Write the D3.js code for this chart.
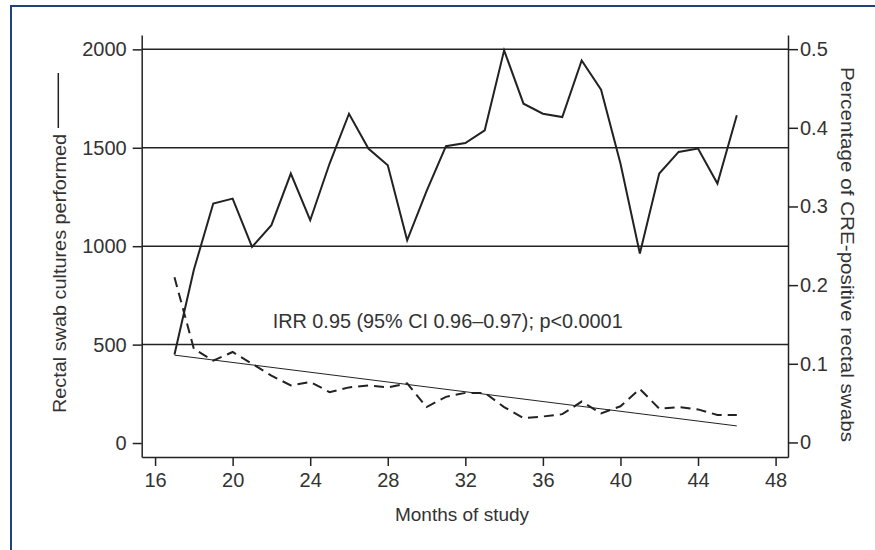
<!DOCTYPE html>
<html>
<head>
<meta charset="utf-8">
<script src="https://cdn.jsdelivr.net/npm/d3@7"></script>
<style>
  body { margin: 0; background: #fff; }
  svg { display: block; font-family: "Liberation Sans", Arial, sans-serif; }
</style>
</head>
<body>
<svg id="chart" width="875" height="550"></svg>
<script>
// months of study
var months = [17, 18, 19, 20, 21, 22, 23, 24, 25, 26, 27, 28, 29, 30, 31,
              32, 33, 34, 35, 36, 37, 38, 39, 40, 41, 42, 43, 44, 45, 46];
// rectal swab cultures performed (left axis)
var cultures = [450, 880, 1217, 1242, 996, 1107, 1369, 1132, 1420, 1673,
                1496, 1411, 1030, 1280, 1508, 1524, 1589, 1995, 1724, 1673,
                1656, 1944, 1795, 1420, 963, 1369, 1479, 1496, 1318, 1665];
// percentage of CRE-positive rectal swabs (right axis)
var crePct = [0.210, 0.119, 0.104, 0.115, 0.100, 0.085, 0.0725, 0.077, 0.064, 0.070,
              0.0725, 0.070, 0.075, 0.045, 0.058, 0.063, 0.063, 0.045, 0.031, 0.033,
              0.036, 0.052, 0.037, 0.046, 0.068, 0.043, 0.045, 0.042, 0.035, 0.035];
// fitted trend (right axis), end points
var trendMonths = [17, 46];
var trendPct = [0.111, 0.021];

var xTicks = [16, 20, 24, 28, 32, 36, 40, 44, 48];
var leftTicks = [0, 500, 1000, 1500, 2000];
var gridTicks = [500, 1000, 1500, 2000];
var rightTicks = [0, 0.1, 0.2, 0.3, 0.4, 0.5];
var annotation = "IRR 0.95 (95% CI 0.96\u20130.97); p<0.0001";

var ink = "#222", textCol = "#333";
var plotLeft = 141.7, plotRight = 788, plotTop = 35, plotBottom = 457;

var svg = d3.select("#chart");

// frame (only top/left edges fall inside the picture)
svg.append("line").attr("x1", 10).attr("x2", 875).attr("y1", 6).attr("y2", 6)
  .attr("stroke", "#22407c").attr("stroke-width", 2);
svg.append("line").attr("x1", 11).attr("x2", 11).attr("y1", 5).attr("y2", 550)
  .attr("stroke", "#22407c").attr("stroke-width", 2);

var x = d3.scaleLinear().domain([15.31, 48.64]).range([plotLeft, plotRight]);
var yL = d3.scaleLinear().domain([-71, 2073]).range([plotBottom, plotTop]);
var yR = d3.scaleLinear().domain([-0.0185, 0.518]).range([plotBottom, plotTop]);

// grid lines
svg.append("g").selectAll("line").data(gridTicks).enter().append("line")
  .attr("x1", plotLeft).attr("x2", plotRight)
  .attr("y1", function (d) { return yL(d); })
  .attr("y2", function (d) { return yL(d); })
  .attr("stroke", ink).attr("stroke-width", 1.5);

function styleAxis(g) {
  g.selectAll("path,line").attr("stroke", ink).attr("stroke-width", 1.5);
  g.selectAll("text").attr("fill", textCol).style("font-size", "20px")
    .style("font-family", "'Liberation Sans', Arial, sans-serif");
}

svg.append("g").attr("transform", "translate(0," + plotBottom + ")")
  .call(d3.axisBottom(x).tickValues(xTicks).tickSize(9).tickPadding(7).tickSizeOuter(0))
  .call(styleAxis);

svg.append("g").attr("transform", "translate(" + plotLeft + ",0)")
  .call(d3.axisLeft(yL).tickValues(leftTicks).tickSize(9).tickPadding(6).tickSizeOuter(0)
    .tickFormat(d3.format("d")))
  .call(styleAxis);

svg.append("g").attr("transform", "translate(" + plotRight + ",0)")
  .call(d3.axisRight(yR).tickValues(rightTicks).tickSize(10).tickPadding(2).tickSizeOuter(0)
    .tickFormat(function (d) { return d === 0 ? "0" : d3.format(".1f")(d); }))
  .call(styleAxis);

// series
var rows = months.map(function (m, i) { return { m: m, c: cultures[i], p: crePct[i] }; });

svg.append("path").datum(rows)
  .attr("fill", "none").attr("stroke", ink).attr("stroke-width", 2)
  .attr("d", d3.line().x(function (d) { return x(d.m); }).y(function (d) { return yL(d.c); }));

svg.append("path").datum(rows)
  .attr("fill", "none").attr("stroke", ink).attr("stroke-width", 2)
  .attr("stroke-dasharray", "10,6")
  .attr("d", d3.line().x(function (d) { return x(d.m); }).y(function (d) { return yR(d.p); }));

var trend = trendMonths.map(function (m, i) { return { m: m, p: trendPct[i] }; });
svg.append("path").datum(trend)
  .attr("fill", "none").attr("stroke", ink).attr("stroke-width", 1)
  .attr("d", d3.line().x(function (d) { return x(d.m); }).y(function (d) { return yR(d.p); }));

// annotation
svg.append("text").attr("x", 272.7).attr("y", 328)
  .attr("textLength", 350).attr("lengthAdjust", "spacingAndGlyphs")
  .attr("fill", textCol).style("font-size", "21px")
  .text(annotation);

// axis titles
svg.append("text").attr("transform", "translate(65.5,413) rotate(-90)")
  .attr("textLength", 279).attr("lengthAdjust", "spacingAndGlyphs")
  .attr("fill", textCol).style("font-size", "19px")
  .text("Rectal swab cultures performed");
svg.append("line").attr("x1", 58.3).attr("x2", 58.3).attr("y1", 128).attr("y2", 73)
  .attr("stroke", ink).attr("stroke-width", 1.5);

svg.append("text").attr("transform", "translate(841,67) rotate(90)")
  .attr("textLength", 375).attr("lengthAdjust", "spacingAndGlyphs")
  .attr("fill", textCol).style("font-size", "19px")
  .text("Percentage of CRE-positive rectal swabs");

svg.append("text").attr("x", 462).attr("y", 521).attr("text-anchor", "middle")
  .attr("fill", textCol).style("font-size", "19px")
  .text("Months of study");
</script>
</body>
</html>
